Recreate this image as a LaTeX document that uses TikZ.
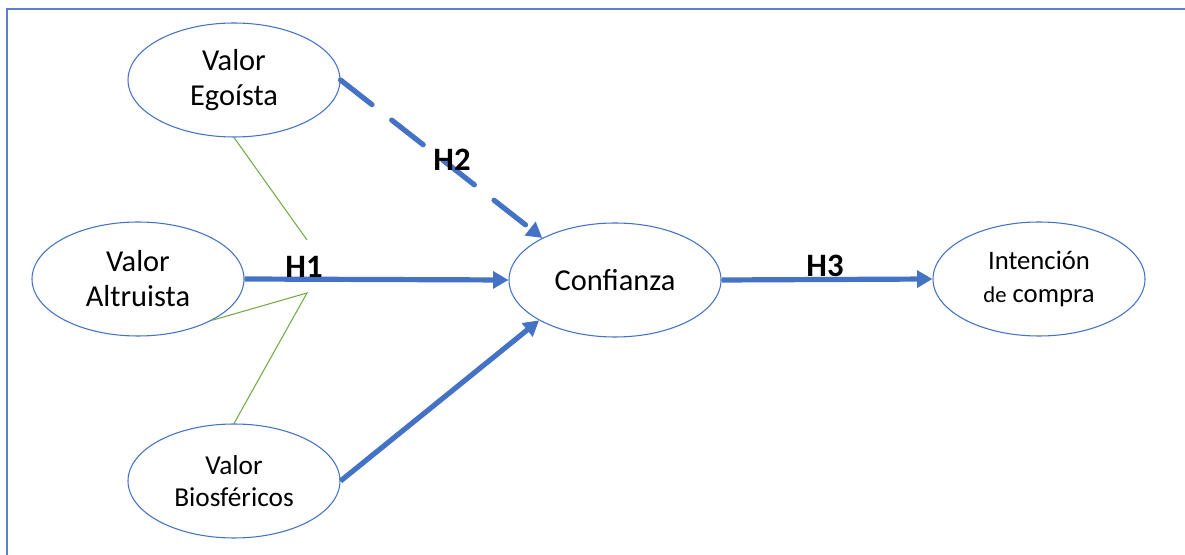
\documentclass[tikz,border=0pt]{standalone}
\usepackage{fontspec}
\setmainfont{Carlito}
\usetikzlibrary{shapes.geometric,arrows.meta}
\definecolor{obl}{HTML}{4472C4}
\definecolor{ogr}{HTML}{70AD47}
\definecolor{frm}{HTML}{5B7FCB}
\tikzset{
  var/.style={ellipse, draw=obl, line width=0.8pt, inner sep=0pt,
    minimum width=159pt, minimum height=85.5pt, align=center,
    font=\fontsize{22.8}{26.3}\selectfont},
  rel/.style={draw=obl, line width=3.9pt, -{Triangle[length=11.5pt,width=12.5pt]}},
  hyp/.style={font=\fontsize{24.5}{26}\selectfont\bfseries, inner sep=0pt},
  corr/.style={draw=ogr, line width=0.8pt},
}
\begin{document}
\begin{tikzpicture}[x=0.75pt, y={(0,-0.75pt)}]
\fill[white] (0,0) rectangle (1185,555);
\useasboundingbox (0,0) rectangle (1185,555);
\draw[frm, line width=1.3pt] (7,555) -- (7,9) -- (1185,9);

\node[var] (ego) at (234,80) {Valor\\Egoísta};
\node[var] (alt) at (138,279) {Valor\\Altruista};
\node[var, font=\fontsize{20.5}{23.5}\selectfont] (bio) at (234,481) {Valor\\Biosféricos};
\node[var] (conf) at (615,280) {Confianza};
\node[var, font=\fontsize{20}{25}\selectfont] (int) at (1039,279) {Intención\\{\fontsize{17}{25}\selectfont de} compra};

\coordinate (g1) at (307,240);
\coordinate (g2) at (307,293);
\draw[corr] (ego.south) -- (g1);
\draw[corr] (alt.-29) -- (g2) -- (bio.north);

\draw[rel] (alt.east) -- (conf.west);
\draw[rel, line cap=round, dash pattern=on 30pt off 18.75pt] (ego.east) -- (conf.150);
\draw[rel] (bio.east) -- (conf.208);
\draw[rel] (conf.east) -- (int.west);

\node[hyp] (h1) at (304,267) {H1};
\node[hyp] (h2) at (452,160) {H2};
\node[hyp] (h3) at (825,266) {H3};
\end{tikzpicture}
\end{document}
